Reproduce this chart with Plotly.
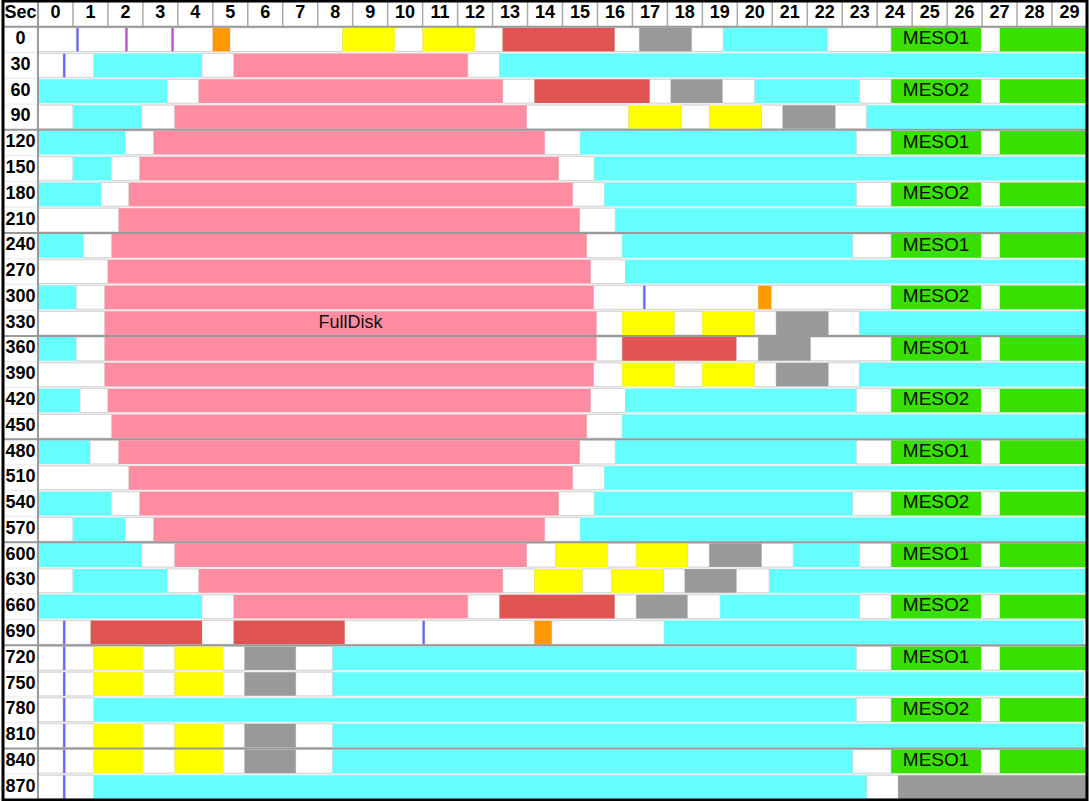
import plotly.graph_objects as go

# ---------------- data (seconds) ----------------
SEC_ROWS = [0, 30, 60, 90, 120, 150, 180, 210, 240, 270, 300, 330, 360, 390, 420,
            450, 480, 510, 540, 570, 600, 630, 660, 690, 720, 750, 780, 810, 840, 870]
COL_LABELS = ["0", "1", "2", "3", "4", "5", "6", "7", "8", "9", "10", "11", "12", "13", "14",
              "15", "16", "17", "18", "19", "20", "21", "22", "23", "24", "25", "26", "27", "28", "29"]
CORNER_LABEL = "Sec"

FULLDISK_ROW = [30, 60, 90, 120, 150, 180, 210, 240, 270, 300, 330, 360, 390, 420, 450,
                480, 510, 540, 570, 600, 630, 660]
FULLDISK_START = [5.6, 4.6, 3.91, 3.31, 2.91, 2.6, 2.31, 2.11, 2.0, 1.91, 1.91, 1.91, 1.91, 2.0, 2.11,
                  2.31, 2.6, 2.91, 3.31, 3.91, 4.6, 5.6]
FULLDISK_END = [12.29, 13.29, 13.97, 14.49, 14.89, 15.29, 15.49, 15.69, 15.8, 15.89, 15.97, 15.97, 15.89, 15.8, 15.69,
                15.49, 15.29, 14.89, 14.49, 13.97, 13.29, 12.29]
FULLDISK_LABEL_ROW = 330
FULLDISK_LABEL = "FullDisk"

CONUS_ROW = [0, 30, 30, 60, 60, 90, 90, 120, 120, 150, 150, 180, 180, 210, 240, 240, 270, 300, 330, 360,
             390, 420, 420, 450, 480, 480, 510, 540, 540, 570, 570, 600, 600, 630, 630, 660, 660, 690,
             720, 750, 780, 810, 840, 870]
CONUS_START = [19.6, 1.6, 13.2, 0.0, 20.5, 1.0, 23.7, 0.0, 15.51, 1.0, 15.91, 0.0, 16.2, 16.51, 0.0, 16.71, 16.8, 0.0, 23.49, 0.0,
               23.49, 0.0, 16.8, 16.71, 0.0, 16.51, 16.2, 0.0, 15.91, 1.0, 15.51, 0.0, 21.6, 1.0, 20.91, 0.0, 19.51, 17.91,
               8.43, 8.43, 1.6, 8.43, 8.43, 1.6]
CONUS_END = [22.57, 4.69, 30.0, 3.69, 23.49, 2.97, 30.0, 2.49, 23.4, 2.09, 30.0, 1.8, 23.4, 30.0, 1.29, 23.29, 30.0, 1.09, 30.0, 1.09,
             30.0, 1.2, 23.4, 30.0, 1.49, 23.4, 30.0, 2.09, 23.29, 2.49, 30.0, 2.97, 23.49, 3.69, 30.0, 4.69, 23.49, 29.9,
             23.4, 29.9, 23.4, 29.9, 23.29, 23.69]

RED_ROW = [0, 60, 360, 660, 690, 690]
RED_START = [13.29, 14.2, 16.71, 13.2, 1.51, 5.6]
RED_END = [16.49, 17.49, 19.97, 16.49, 4.69, 8.77]

YELLOW_ROW = [0, 0, 90, 90, 330, 330, 390, 390, 600, 600, 630, 630,
              720, 720, 750, 750, 810, 810, 840, 840]
YELLOW_START = [8.71, 11.0, 16.89, 19.2, 16.71, 19.0, 16.71, 19.0, 14.8, 17.11, 14.2, 16.4,
                1.6, 3.91, 1.6, 3.91, 1.6, 3.91, 1.6, 3.91]
YELLOW_END = [10.2, 12.49, 18.4, 20.69, 18.2, 20.49, 18.2, 20.49, 16.29, 18.57, 15.57, 17.89,
              3.0, 5.29, 3.0, 5.29, 3.0, 5.29, 3.0, 5.29]

GRAY_ROW = [0, 60, 90, 330, 360, 390, 600, 630, 660, 720, 750, 810, 840, 870]
GRAY_START = [17.2, 18.1, 21.3, 21.11, 20.6, 21.11, 19.2, 18.5, 17.11, 5.91, 5.91, 5.91, 5.91, 24.6]
GRAY_END = [18.69, 19.57, 22.8, 22.6, 22.09, 22.6, 20.69, 19.97, 18.57, 7.37, 7.37, 7.37, 7.37, 30.0]

ORANGE_ROW = [0, 300, 690]
ORANGE_START = [5.0, 20.6, 14.2]
ORANGE_END = [5.49, 20.97, 14.69]

MESO_ROW = [0, 60, 120, 180, 240, 300, 360, 420, 480, 540, 600, 660, 720, 780, 840]
MESO_LABEL = ["MESO1", "MESO2", "MESO1", "MESO2", "MESO1", "MESO2", "MESO1", "MESO2",
              "MESO1", "MESO2", "MESO1", "MESO2", "MESO1", "MESO2", "MESO1"]
MESO_START = [24.4] * 15
MESO_END = [26.97] * 15
MESO_TAIL_START = [27.51] * 15
MESO_TAIL_END = [30.0] * 15

BLUE_MARK_ROW = [0, 30, 300, 690, 690, 720, 750, 780, 810, 840, 870]
BLUE_MARK_TIME = [1.1, 0.72, 17.31, 0.72, 11.0, 0.72, 0.72, 0.72, 0.72, 0.72, 0.72]
MAGENTA_MARK_ROW = [0, 0]
MAGENTA_MARK_TIME = [2.5, 3.82]
MARK_WIDTH = 0.06

# ---------------- styles ----------------
C_CYAN = "#66ffff"
C_PINK = "#ff8ca1"
C_RED = "#e05353"
C_YELLOW = "#ffff00"
C_GRAY = "#999999"
C_ORANGE = "#ff9900"
C_GREEN = "#38e000"
C_BLUE = "#6666ff"
C_MAGENTA = "#b455cc"
FONT = "Liberation Sans"
BAR_W = 0.92

def ridx(sec):
    return SEC_ROWS.index(sec)

fig = go.Figure()

# colored segments collected to derive white gaps
segments = {}
def collect(rows, starts, ends):
    for r, s, e in zip(rows, starts, ends):
        segments.setdefault(r, []).append((s, e))

collect(FULLDISK_ROW, FULLDISK_START, FULLDISK_END)
collect(CONUS_ROW, CONUS_START, CONUS_END)
collect(RED_ROW, RED_START, RED_END)
collect(YELLOW_ROW, YELLOW_START, YELLOW_END)
collect(GRAY_ROW, GRAY_START, GRAY_END)
collect(ORANGE_ROW, ORANGE_START, ORANGE_END)
collect(MESO_ROW, MESO_START, MESO_END)
collect(MESO_ROW, MESO_TAIL_START, MESO_TAIL_END)
collect(BLUE_MARK_ROW, BLUE_MARK_TIME, [t + MARK_WIDTH for t in BLUE_MARK_TIME])
collect(MAGENTA_MARK_ROW, MAGENTA_MARK_TIME, [t + MARK_WIDTH for t in MAGENTA_MARK_TIME])

gap_y, gap_s, gap_e = [], [], []
for r in SEC_ROWS:
    cur = 0.0
    for s, e in sorted(segments.get(r, [])):
        if s - cur > 0.01:
            gap_y.append(ridx(r)); gap_s.append(cur); gap_e.append(s)
        cur = max(cur, e)
    if 30.0 - cur > 0.01:
        gap_y.append(ridx(r)); gap_s.append(cur); gap_e.append(30.0)

# header background + label column
fig.add_trace(go.Bar(orientation="h", y=[-1], base=[-1], x=[31], width=1.0,
                     marker=dict(color="white", line=dict(width=0)), hoverinfo="skip", showlegend=False))
fig.add_trace(go.Bar(orientation="h", y=[ridx(r) for r in SEC_ROWS], base=[-1] * len(SEC_ROWS),
                     x=[1] * len(SEC_ROWS), width=0.95,
                     marker=dict(color="white", line=dict(width=0)), hoverinfo="skip", showlegend=False))

# white gaps
fig.add_trace(go.Bar(orientation="h", y=gap_y, base=gap_s, x=[e - s for s, e in zip(gap_s, gap_e)],
                     width=BAR_W, marker=dict(color="white", line=dict(color="#d4d4d4", width=1)),
                     hoverinfo="skip", showlegend=False))

def add_seg(rows, starts, ends, color):
    fig.add_trace(go.Bar(orientation="h", y=[ridx(r) for r in rows], base=starts,
                         x=[e - s for s, e in zip(starts, ends)], width=BAR_W,
                         marker=dict(color=color, line=dict(width=0)),
                         hoverinfo="skip", showlegend=False))

add_seg(FULLDISK_ROW, FULLDISK_START, FULLDISK_END, C_PINK)
add_seg(CONUS_ROW, CONUS_START, CONUS_END, C_CYAN)
add_seg(RED_ROW, RED_START, RED_END, C_RED)
add_seg(YELLOW_ROW, YELLOW_START, YELLOW_END, C_YELLOW)
add_seg(GRAY_ROW, GRAY_START, GRAY_END, C_GRAY)
add_seg(ORANGE_ROW, ORANGE_START, ORANGE_END, C_ORANGE)
add_seg(MESO_ROW, MESO_START, MESO_END, C_GREEN)
add_seg(MESO_ROW, MESO_TAIL_START, MESO_TAIL_END, C_GREEN)
add_seg(BLUE_MARK_ROW, BLUE_MARK_TIME, [t + MARK_WIDTH for t in BLUE_MARK_TIME], C_BLUE)
add_seg(MAGENTA_MARK_ROW, MAGENTA_MARK_TIME, [t + MARK_WIDTH for t in MAGENTA_MARK_TIME], C_MAGENTA)

# header texts
fig.add_trace(go.Scatter(x=[-0.5] + [i + 0.5 for i in range(len(COL_LABELS))],
                         y=[-1] * (len(COL_LABELS) + 1), mode="text",
                         text=[CORNER_LABEL] + COL_LABELS,
                         textfont=dict(family=FONT, size=18, color="black", weight="bold"),
                         hoverinfo="skip", showlegend=False))
# row labels
fig.add_trace(go.Scatter(x=[-0.5] * len(SEC_ROWS), y=[ridx(r) for r in SEC_ROWS], mode="text",
                         text=[str(r) for r in SEC_ROWS],
                         textfont=dict(family=FONT, size=18, color="black", weight="bold"),
                         hoverinfo="skip", showlegend=False))
# meso labels
fig.add_trace(go.Scatter(x=[(s + e) / 2 for s, e in zip(MESO_START, MESO_END)],
                         y=[ridx(r) for r in MESO_ROW], mode="text", text=MESO_LABEL,
                         textfont=dict(family=FONT, size=19, color="#111111"),
                         hoverinfo="skip", showlegend=False))
# full disk label
k = FULLDISK_ROW.index(FULLDISK_LABEL_ROW)
fig.add_trace(go.Scatter(x=[(FULLDISK_START[k] + FULLDISK_END[k]) / 2], y=[ridx(FULLDISK_LABEL_ROW)],
                         mode="text", text=[FULLDISK_LABEL],
                         textfont=dict(family=FONT, size=18, color="#111111"),
                         hoverinfo="skip", showlegend=False))

shapes = []
# header column separators
for i in range(1, 30):
    shapes.append(dict(type="line", xref="x", yref="y", x0=i, x1=i, y0=-1.5, y1=-0.5,
                       line=dict(color="#aaaaaa", width=1.5)))
# label column separator
shapes.append(dict(type="line", xref="x", yref="y", x0=0, x1=0, y0=-1.5, y1=29.5,
                   line=dict(color="#999999", width=2)))
# header bottom + every 4 rows
for yb in [-0.5, 3.5, 7.5, 11.5, 15.5, 19.5, 23.5, 27.5]:
    shapes.append(dict(type="line", xref="x", yref="y", x0=-1, x1=30, y0=yb, y1=yb,
                       line=dict(color="#999999", width=2)))
# outer border
shapes.append(dict(type="rect", xref="paper", yref="paper", x0=0, x1=1, y0=0, y1=1,
                   line=dict(color="black", width=3)))

fig.update_layout(
    width=1089, height=801, autosize=False,
    margin=dict(l=3, r=2, t=1, b=1, pad=0),
    paper_bgcolor="white", plot_bgcolor="#eeeeee",
    barmode="overlay",
    xaxis=dict(range=[-1, 30], visible=False, fixedrange=True),
    yaxis=dict(range=[29.5, -1.5], visible=False, fixedrange=True),
    shapes=shapes,
    showlegend=False,
)

fig.write_html("out.html", config={"displayModeBar": False})
